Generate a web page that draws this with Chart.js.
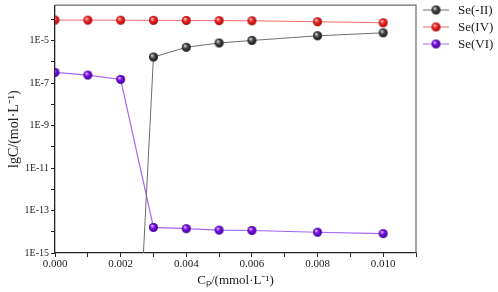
<!DOCTYPE html>
<html>
<head>
<meta charset="utf-8">
<script src="https://cdn.jsdelivr.net/npm/chart.js@4.4.1/dist/chart.umd.min.js"></script>
<style>
html, body { margin: 0; padding: 0; background: #fff; }
#wrap { width: 498px; height: 292px; }
</style>
</head>
<body>
<div id="wrap"><canvas id="chart_se"></canvas></div>
<script>
// Cp (mmol/L)
var cp = [0, 0.001, 0.002, 0.003, 0.004, 0.005, 0.006, 0.008, 0.010];
// concentrations (mol/L)
var seMinusII = [null, null, 1e-36, 1.7e-6, 4.9e-6, 7.8e-6, 1.03e-5, 1.7e-5, 2.35e-5];
var seIV = [9.4e-5, 9.3e-5, 9.2e-5, 9.1e-5, 9.0e-5, 8.8e-5, 8.7e-5, 7.8e-5, 7.0e-5];
var seVI = [3.2e-7, 2.4e-7, 1.5e-7, 1.6e-14, 1.4e-14, 1.2e-14, 1.15e-14, 9.5e-15, 8.2e-15];
var yTickValues = [1e-15, 1e-14, 1e-13, 1e-12, 1e-11, 1e-10, 1e-9, 1e-8, 1e-7, 1e-6, 1e-5, 1e-4];
var seriesNames = ['Se(-II)', 'Se(IV)', 'Se(VI)'];

var serif = "'Liberation Serif', 'Times New Roman', serif";

function ball(light, main, dark, r) {
    var c = document.createElement('canvas');
    var s = 2 * r + 2;
    c.width = s; c.height = s;
    var g = c.getContext('2d');
    var cx = s / 2;
    var grad = g.createRadialGradient(cx - r * 0.35, cx - r * 0.4, r * 0.05, cx, cx, r);
    grad.addColorStop(0, light);
    grad.addColorStop(0.45, main);
    grad.addColorStop(1, dark);
    g.fillStyle = grad;
    g.beginPath();
    g.arc(cx, cx, r, 0, Math.PI * 2);
    g.fill();
    return c;
}

var balls = [
    ball('#e8e8e8', '#4a4a4a', '#111111', 4.5),
    ball('#ffd0d0', '#ee2a2a', '#a80000', 4.5),
    ball('#e6c8ff', '#7a10ee', '#3c0090', 4.5)
];
var lineColors = ['#6e6e6e', '#f06a6a', '#a266f2'];

function toXY(ys) {
    return cp.map(function(x, i) { return { x: x, y: ys[i] }; });
}

var chart_se = new Chart(document.getElementById('chart_se'), {
    type: 'line',
    data: {
        datasets: [
            {
                label: seriesNames[0],
                data: toXY(seMinusII),
                borderColor: lineColors[0],
                borderWidth: 1,
                pointStyle: balls[0],
                spanGaps: false
            },
            {
                label: seriesNames[1],
                data: toXY(seIV),
                borderColor: lineColors[1],
                borderWidth: 1,
                pointStyle: balls[1]
            },
            {
                label: seriesNames[2],
                data: toXY(seVI),
                borderColor: lineColors[2],
                borderWidth: 1.2,
                pointStyle: balls[2]
            }
        ]
    },
    options: {
        animation: false,
        responsive: true,
        maintainAspectRatio: false,
        devicePixelRatio: 1,
        layout: {
            padding: { top: 3, right: 82, left: 0, bottom: 0 }
        },
        plugins: {
            legend: { display: false },
            tooltip: { enabled: false }
        },
        scales: {
            x: {
                type: 'linear',
                min: 0,
                max: 0.011,
                border: { display: true, color: '#222', width: 1.3 },
                grid: { drawOnChartArea: false, tickLength: 4, color: '#222' },
                ticks: {
                    stepSize: 0.001,
                    padding: 1,
                    color: '#222',
                    font: { family: serif, size: 11 },
                    maxRotation: 0,
                    autoSkip: false,
                    callback: function(value) {
                        var k = Math.round(value * 1000);
                        return (k % 2 === 0 && k <= 10) ? value.toFixed(3) : '';
                    }
                },
                title: {
                    display: true,
                    text: 'C\u209A/(mmol\u00B7L\u207B\u00B9)',
                    color: '#222',
                    font: { family: serif, size: 13 },
                    padding: { top: 0, bottom: 4 }
                },
                afterFit: function(scale) {
                    scale.height = 39;
                    scale.paddingLeft = 0;
                    scale.paddingRight = 0;
                }
            },
            y: {
                type: 'logarithmic',
                min: 1e-15,
                max: 4.7e-4,
                border: { display: true, color: '#222', width: 1.3 },
                grid: { drawOnChartArea: false, tickLength: 4, color: '#222' },
                afterBuildTicks: function(scale) {
                    scale.ticks = yTickValues.map(function(v) { return { value: v }; });
                },
                ticks: {
                    padding: 2,
                    color: '#222',
                    font: { family: serif, size: 10 },
                    autoSkip: false,
                    callback: function(value) {
                        var e = Math.round(Math.log10(value));
                        return (e % 2 !== 0 && e <= -5) ? '1E' + e : '';
                    }
                },
                title: {
                    display: true,
                    text: 'lgC/(mol\u00B7L\u207B\u00B9)',
                    color: '#222',
                    font: { family: serif, size: 14 },
                    padding: { top: 6, bottom: 0 }
                },
                afterFit: function(scale) {
                    scale.width = 55;
                    scale.paddingTop = 0;
                    scale.paddingBottom = 0;
                }
            }
        }
    },
    plugins: [{
        id: 'frameAndLegend',
        beforeDraw: function(chart) {
            var ctx = chart.ctx;
            ctx.save();
            ctx.fillStyle = 'white';
            ctx.fillRect(0, 0, chart.width, chart.height);
            ctx.restore();
        },
        afterDraw: function(chart) {
            var ctx = chart.ctx;
            var a = chart.chartArea;
            ctx.save();
            // top and right of the frame
            ctx.strokeStyle = '#6a6a6a';
            ctx.lineWidth = 1.2;
            ctx.beginPath();
            ctx.moveTo(a.left, a.top);
            ctx.lineTo(a.right, a.top);
            ctx.lineTo(a.right, a.bottom);
            ctx.stroke();
            // legend
            var lx = a.right + 7;
            var ly = 10;
            ctx.font = '13px ' + serif;
            ctx.textBaseline = 'middle';
            ctx.textAlign = 'left';
            chart.data.datasets.forEach(function(ds, i) {
                var y = ly + i * 17;
                ctx.strokeStyle = lineColors[i];
                ctx.lineWidth = 1;
                ctx.beginPath();
                ctx.moveTo(lx, y);
                ctx.lineTo(lx + 26, y);
                ctx.stroke();
                var b = balls[i];
                ctx.drawImage(b, lx + 13 - b.width / 2, y - b.height / 2);
                ctx.fillStyle = '#222';
                ctx.fillText(ds.label, lx + 35, y + 1);
            });
            ctx.restore();
        }
    }]
});
</script>
</body>
</html>
